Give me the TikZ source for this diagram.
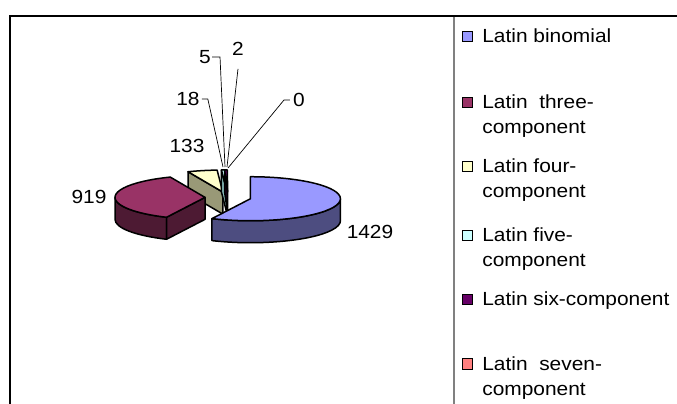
\documentclass[tikz,border=0pt]{standalone}
\usepackage{fontspec}
\setmainfont{Liberation Sans}[FakeStretch=1.1]
\usetikzlibrary{calc}

\definecolor{binomtop}{HTML}{9999FF}
\definecolor{binomside}{HTML}{4D4D80}
\definecolor{threetop}{HTML}{993366}
\definecolor{threeside}{HTML}{4D1A33}
\definecolor{fourtop}{HTML}{FFFFCC}
\definecolor{fourside}{HTML}{999977}
\definecolor{fivetop}{HTML}{CCFFFF}
\definecolor{fiveside}{HTML}{88BBBB}
\definecolor{sixtop}{HTML}{660066}
\definecolor{sixside}{HTML}{1A001A}
\definecolor{seventop}{HTML}{FF8080}

\tikzset{
  face/.style={draw=black, line width=1.5pt, line join=round},
  rim/.style={x radius=90, y radius=22},
  leader/.style={draw=black, line width=0.7pt},
  datalabel/.style={inner sep=0pt, font=\fontsize{19}{25}\selectfont},
  legtext/.style={inner sep=0pt, anchor=base west, font=\fontsize{19}{25}\selectfont},
  legkey/.style={draw=black, line width=0.8pt, minimum size=10.5pt, inner sep=0pt}
}

\begin{document}
\begin{tikzpicture}[x=1pt, y=-1pt]
	\useasboundingbox (0,0) rectangle (677,404);
	
	% frame
	\draw[line width=2pt] (10,404) -- (10,16) -- (677,16);
	\draw[line width=2pt, gray] (454,17) -- (454,404);
	
	% exploded pie
	\coordinate (pc) at (228,197.5);
	\coordinate (ab) at ($(pc)+(12.65:23 and 5.6)$);
	\coordinate (ap) at ($(pc)+(181.3:23 and 5.6)$);
	\coordinate (ay) at ($(pc)+(256.85:23 and 5.6)$);
	\coordinate (af) at ($(pc)+(267.7:23 and 5.6)$);
	\coordinate (as) at ($(pc)+(269.35:23 and 5.6)$);
	
	% four-component
	\filldraw[face, fill=fourside] (ay) -- ($(ay)+(247.3:90 and 22)$) -- ++(0,22) -- ($(ay)+(0,22)$) -- cycle;
	\filldraw[face, fill=fourtop] (ay) -- ++(247.3:90 and 22) arc[rim, start angle=247.3, end angle=266.4] -- cycle;
	
	% five-component
	\filldraw[face, fill=fiveside] (af) -- ($(af)+(266.4:90 and 22)$) -- ++(0,22) -- ($(af)+(0,22)$) -- cycle;
	\filldraw[face, fill=fivetop] (af) -- ++(266.4:90 and 22) arc[rim, start angle=266.4, end angle=269.0] -- cycle;
	
	% six-component
	\filldraw[face, fill=sixside] (as) -- ($(as)+(268.0:90 and 22)$) -- ++(0,22) -- ($(as)+(0,22)$) -- cycle;
	\filldraw[face, fill=sixtop] (as) -- ++(268.0:90 and 22) arc[rim, start angle=268.0, end angle=269.7] -- cycle;
	
	% three-component
	\filldraw[face, fill=threeside] ($(ap)+(115.3:90 and 22)$) arc[rim, start angle=115.3, end angle=180] -- ++(0,22) arc[rim, start angle=180, end angle=115.3] -- cycle;
	\filldraw[face, fill=threeside] (ap) -- ($(ap)+(115.3:90 and 22)$) -- ++(0,22) -- ($(ap)+(0,22)$) -- cycle;
	\filldraw[face, fill=threetop] (ap) -- ++(115.3:90 and 22) arc[rim, start angle=115.3, end angle=247.3] -- cycle;
	
	% binomial
	\filldraw[face, fill=binomside] ($(ab)+(0:90 and 22)$) arc[rim, start angle=0, end angle=115.3] -- ++(0,22) arc[rim, start angle=115.3, end angle=0] -- cycle;
	\filldraw[face, fill=binomtop] (ab) -- ++(-90:90 and 22) arc[rim, start angle=-90, end angle=115.3] -- cycle;
	
	% data labels
	\node[datalabel] (v1429) at (370,232) {1429};
	\node[datalabel] (v919) at (89,197) {919};
	\node[datalabel] (v133) at (187,146) {133};
	\node[datalabel] (v18) at (188,99) {18};
	\node[datalabel] (v5) at (205,57) {5};
	\node[datalabel] (v2) at (238,49) {2};
	\node[datalabel] (v0) at (299,100) {0};
	
	\coordinate (e18) at (223,167);
	\coordinate (e5) at (225,167);
	\coordinate (e2) at (227,167);
	\coordinate (e0) at (228,168);
	
	\draw[leader] ([xshift=2pt]v18.east) -- ([xshift=8pt]v18.east) -- (e18);
	\draw[leader] ([xshift=1pt]v5.east) -- ([xshift=9pt]v5.east) -- (e5);
	\draw[leader] ([yshift=-13pt]v2.south) -- (e2);
	\draw[leader] ([xshift=-3pt]v0.west) -- ([xshift=-9pt]v0.west) -- (e0);
	
	% legend
	\node[legkey, fill=binomtop] (k1) at (467.5,36.5) {};
	\node[legtext] (t1) at ([xshift=9pt, yshift=-6pt]k1.east) {Latin binomial};
	
	\node[legkey, fill=threetop] (k2) at (467.5,102.5) {};
	\node[legtext] (t2) at ([xshift=9pt, yshift=-6pt]k2.east) {Latin\ \ three-};
	\node[legtext] (t2b) at ([yshift=-25pt]t2.base west) {component};
	
	\node[legkey, fill=fourtop] (k3) at (467.5,166.5) {};
	\node[legtext] (t3) at ([xshift=9pt, yshift=-6pt]k3.east) {Latin four-};
	\node[legtext] (t3b) at ([yshift=-25pt]t3.base west) {component};
	
	\node[legkey, fill=fivetop] (k4) at (467.5,235.5) {};
	\node[legtext] (t4) at ([xshift=9pt, yshift=-6pt]k4.east) {Latin five-};
	\node[legtext] (t4b) at ([yshift=-25pt]t4.base west) {component};
	
	\node[legkey, fill=sixtop] (k5) at (467.5,299.5) {};
	\node[legtext] (t5) at ([xshift=9pt, yshift=-6pt]k5.east) {Latin six-component};
	
	\node[legkey, fill=seventop] (k6) at (467.5,364) {};
	\node[legtext] (t6) at ([xshift=9pt, yshift=-6pt]k6.east) {Latin\ \ seven-};
	\node[legtext] (t6b) at ([yshift=-25pt]t6.base west) {component};
\end{tikzpicture}
\end{document}
